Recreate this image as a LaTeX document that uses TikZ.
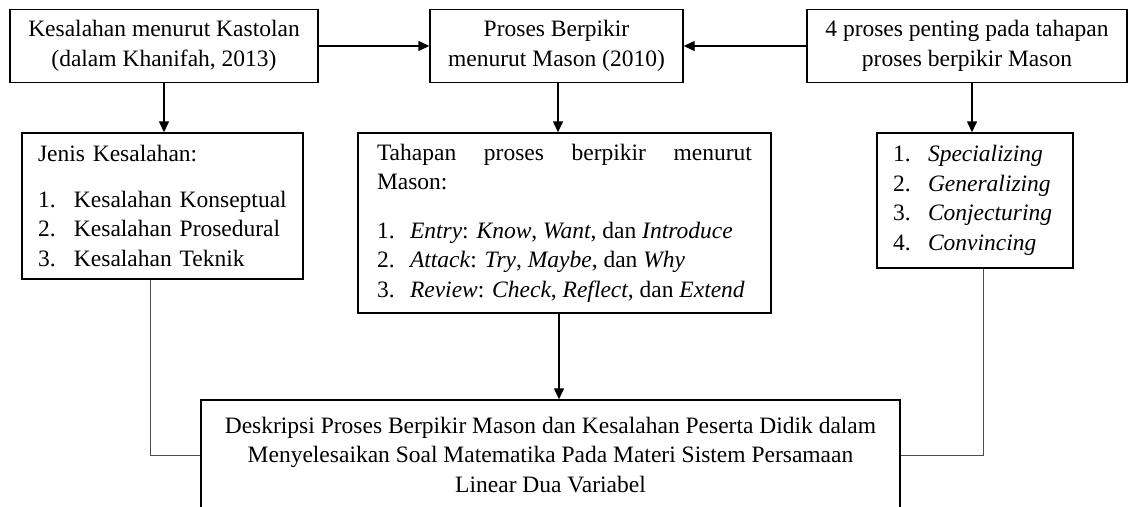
\documentclass[tikz,border=0pt]{standalone}
\usepackage{fontspec}
\setmainfont{Liberation Serif}
\usetikzlibrary{arrows.meta}
\setlength{\parindent}{0pt}
\tikzset{
  box/.style={draw, line width=1.4pt, rectangle, inner sep=0pt,
    font=\fontsize{23.5}{29.5}\selectfont},
  arr/.style={-{Triangle[length=11pt,width=10pt]}, line width=1.4pt},
  thinline/.style={line width=0.9pt, draw=black!70},
}
\newcommand{\numA}[1]{\makebox[36pt][l]{#1}}
\newcommand{\numE}[1]{\makebox[33pt][l]{#1}}
\newcommand{\numG}[1]{\makebox[35pt][l]{#1}}
\begin{document}
\begin{tikzpicture}[x=1pt,y=-1pt]
\useasboundingbox (0,0) rectangle (1129,506);
\clip (0,0) rectangle (1129,506);

\node[box, minimum width=308pt, minimum height=73pt, align=center] (A) at (164,46)
  {Kesalahan menurut Kastolan\\(dalam Khanifah, 2013)};
\node[box, minimum width=253pt, minimum height=73pt, align=center] (B) at (556.5,46)
  {Proses Berpikir\\menurut Mason (2010)};
\node[box, minimum width=320pt, minimum height=73pt, align=center] (C) at (967,46)
  {4 proses penting pada tahapan\\proses berpikir Mason};

\node[box, minimum height=146pt, inner xsep=16pt, text width=249pt, align=left] (D) at (162.5,206)
  {Jenis Kesalahan:\par\vspace{16pt}
   \numA{1.}Kesalahan Konseptual\par
   \numA{2.}Kesalahan Prosedural\par
   \numA{3.}Kesalahan Teknik};

\node[box, minimum height=180pt, inner xsep=19pt, text width=375pt, align=justify] (E) at (564.5,223)
  {\hyphenpenalty=10000 \tolerance=10000
   Tahapan proses berpikir menurut Mason:\par\vspace{19pt}
   \numE{1.}\textit{Entry}: \textit{Know}, \textit{Want}, dan \textit{Introduce}\par
   \numE{2.}\textit{Attack}: \textit{Try}, \textit{Maybe}, dan \textit{Why}\par
   \numE{3.}\textit{Review}: \textit{Check}, \textit{Reflect}, dan \textit{Extend}};

\node[box, minimum height=135pt, inner xsep=16pt, text width=164pt, align=left] (G) at (975,200.5)
  {\numG{1.}\textit{Specializing}\par
   \numG{2.}\textit{Generalizing}\par
   \numG{3.}\textit{Conjecturing}\par
   \numG{4.}\textit{Convincing}};

\node[box, minimum width=699pt, minimum height=110pt, align=center] (F) at (550.5,455)
  {Deskripsi Proses Berpikir Mason dan Kesalahan Peserta Didik dalam\\
   Menyelesaikan Soal Matematika Pada Materi Sistem Persamaan\\
   Linear Dua Variabel};

\draw[arr] (A.east) -- (B.west);
\draw[arr] (C.west) -- (B.east);
\draw[arr] (A.south) -- (A.south |- D.north);
\draw[arr] ([xshift=1.5pt]B.south) -- ([xshift=1.5pt]B.south |- E.north);
\draw[arr] ([xshift=5pt]C.south) -- ([xshift=5pt]C.south |- G.north);
\draw[arr] ([xshift=-5.5pt]E.south) -- ([xshift=-5.5pt]E.south |- F.north);
\draw[thinline] ([xshift=-12.5pt]D.south) |- (F.west);
\draw[thinline] ([xshift=8pt]G.south) |- (F.east);
\end{tikzpicture}
\end{document}
